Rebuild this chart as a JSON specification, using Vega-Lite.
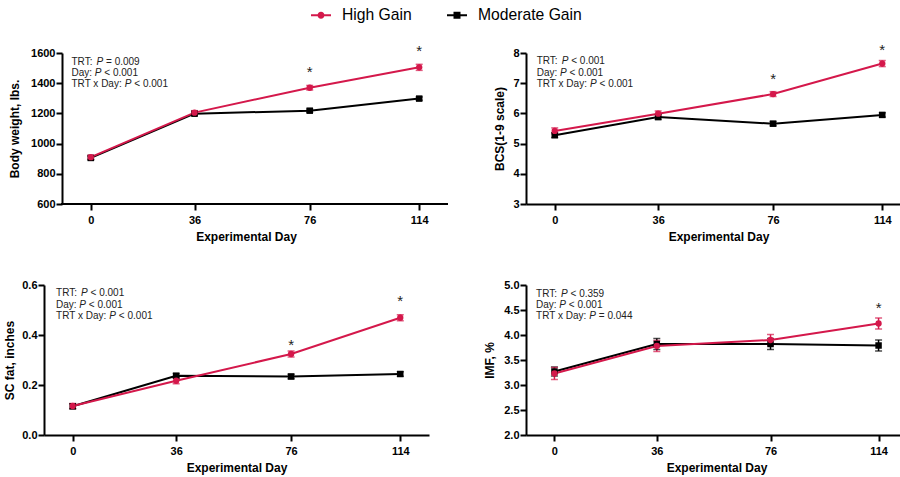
{
  "$schema": "https://vega.github.io/schema/vega-lite/v6.json",
  "padding": {"left": 3, "top": 5, "right": 0, "bottom": 5},
  "background": "white",
  "datasets": {
    "pts": [
      {"panel": "bw", "group": "Moderate Gain", "day": 0, "mean": 905, "lo": 893, "hi": 917},
      {"panel": "bw", "group": "Moderate Gain", "day": 36, "mean": 1198, "lo": 1186, "hi": 1210},
      {"panel": "bw", "group": "Moderate Gain", "day": 76, "mean": 1218, "lo": 1207, "hi": 1229},
      {"panel": "bw", "group": "Moderate Gain", "day": 114, "mean": 1298, "lo": 1287, "hi": 1309},
      {"panel": "bcs", "group": "Moderate Gain", "day": 0, "mean": 5.28, "lo": 5.2, "hi": 5.36},
      {"panel": "bcs", "group": "Moderate Gain", "day": 36, "mean": 5.88, "lo": 5.8, "hi": 5.96},
      {"panel": "bcs", "group": "Moderate Gain", "day": 76, "mean": 5.66, "lo": 5.59, "hi": 5.73},
      {"panel": "bcs", "group": "Moderate Gain", "day": 114, "mean": 5.95, "lo": 5.88, "hi": 6.02},
      {"panel": "sc", "group": "Moderate Gain", "day": 0, "mean": 0.115, "lo": 0.105, "hi": 0.125},
      {"panel": "sc", "group": "Moderate Gain", "day": 36, "mean": 0.237, "lo": 0.228, "hi": 0.246},
      {"panel": "sc", "group": "Moderate Gain", "day": 76, "mean": 0.234, "lo": 0.225, "hi": 0.243},
      {"panel": "sc", "group": "Moderate Gain", "day": 114, "mean": 0.244, "lo": 0.235, "hi": 0.253},
      {"panel": "imf", "group": "Moderate Gain", "day": 0, "mean": 3.27, "lo": 3.18, "hi": 3.36},
      {"panel": "imf", "group": "Moderate Gain", "day": 36, "mean": 3.82, "lo": 3.71, "hi": 3.93},
      {"panel": "imf", "group": "Moderate Gain", "day": 76, "mean": 3.82, "lo": 3.71, "hi": 3.93},
      {"panel": "imf", "group": "Moderate Gain", "day": 114, "mean": 3.79, "lo": 3.68, "hi": 3.9},
      {"panel": "bw", "group": "High Gain", "day": 0, "mean": 910, "lo": 897, "hi": 923},
      {"panel": "bw", "group": "High Gain", "day": 36, "mean": 1205, "lo": 1192, "hi": 1218},
      {"panel": "bw", "group": "High Gain", "day": 76, "mean": 1370, "lo": 1355, "hi": 1385},
      {"panel": "bw", "group": "High Gain", "day": 114, "mean": 1505, "lo": 1485, "hi": 1525},
      {"panel": "bcs", "group": "High Gain", "day": 0, "mean": 5.42, "lo": 5.32, "hi": 5.52},
      {"panel": "bcs", "group": "High Gain", "day": 36, "mean": 5.99, "lo": 5.9, "hi": 6.08},
      {"panel": "bcs", "group": "High Gain", "day": 76, "mean": 6.64, "lo": 6.56, "hi": 6.72},
      {"panel": "bcs", "group": "High Gain", "day": 114, "mean": 7.65, "lo": 7.55, "hi": 7.75},
      {"panel": "sc", "group": "High Gain", "day": 0, "mean": 0.116, "lo": 0.106, "hi": 0.126},
      {"panel": "sc", "group": "High Gain", "day": 36, "mean": 0.217, "lo": 0.205, "hi": 0.229},
      {"panel": "sc", "group": "High Gain", "day": 76, "mean": 0.324, "lo": 0.312, "hi": 0.336},
      {"panel": "sc", "group": "High Gain", "day": 114, "mean": 0.469, "lo": 0.457, "hi": 0.481},
      {"panel": "imf", "group": "High Gain", "day": 0, "mean": 3.23, "lo": 3.11, "hi": 3.35},
      {"panel": "imf", "group": "High Gain", "day": 36, "mean": 3.78, "lo": 3.67, "hi": 3.89},
      {"panel": "imf", "group": "High Gain", "day": 76, "mean": 3.9, "lo": 3.79, "hi": 4.01},
      {"panel": "imf", "group": "High Gain", "day": 114, "mean": 4.23, "lo": 4.12, "hi": 4.34}
    ],
    "stars": [
      {"panel": "bw", "day": 76, "y": 1472},
      {"panel": "bw", "day": 114, "y": 1615},
      {"panel": "bcs", "day": 76, "y": 7.15},
      {"panel": "bcs", "day": 114, "y": 8.09},
      {"panel": "sc", "day": 76, "y": 0.361},
      {"panel": "sc", "day": 114, "y": 0.535},
      {"panel": "imf", "day": 114, "y": 4.54}
    ]
  },
  "concat": [
    {
      "width": 404, "height": 151,
      "layer": [
        {
          "data": {"name": "pts"},
          "transform": [{"filter": "datum.panel === 'bw'"}],
          "encoding": {
            "x": {"field": "day", "type": "quantitative", "scale": {"domain": [-16.25, 124], "nice": false, "zero": false}, "title": "Experimental Day", "axis": {"values": [0, 36, 76, 114], "labelPadding": 4, "titlePadding": 6, "labelFlush": false, "labelOverlap": false, "domain": false}},
            "color": {"field": "group", "type": "nominal", "scale": {"domain": ["High Gain", "Moderate Gain"], "range": ["#d4184b", "#000000"]},
              "legend": {"orient": "none", "legendX": 267, "legendY": -48, "direction": "horizontal", "title": null, "labelFontSize": 15.7, "labelFont": "Liberation Sans", "labelFontWeight": "normal", "labelColor": "#000", "symbolSize": 400, "labelOffset": 11, "columnPadding": 35, "symbolStrokeWidth": 0,
                "encode": {"symbols": {"update": {
                  "shape": {"signal": "datum.value === 'High Gain' ? 'M-1,-0.1H1V0.1H-1Z M0.35,0 A0.35,0.35 0 1 1 -0.35,0 A0.35,0.35 0 1 1 0.35,0Z' : 'M-1,-0.1H1V0.1H-1Z M-0.35,-0.35H0.35V0.35H-0.35Z'"},
                  "fill": {"signal": "datum.value === 'High Gain' ? '#d4184b' : '#000000'"},
                  "opacity": {"value": 1}, "strokeWidth": {"value": 0}}}}}}
          },
          "layer": [
            {"mark": {"type": "rule", "strokeWidth": 1.5}, "encoding": {"y": {"field": "lo", "type": "quantitative", "scale": {"domain": [600, 1600], "nice": false, "zero": false}, "title": "Body weight, lbs.", "axis": {"values": [600, 800, 1000, 1200, 1400, 1600], "format": "d", "labelOverlap": false, "labelPadding": 1, "titlePadding": 9.5, "offset": -18}}, "y2": {"field": "hi"}}},
            {"mark": {"type": "tick", "orient": "horizontal", "size": 7, "thickness": 1.5}, "encoding": {"y": {"field": "lo", "type": "quantitative", "scale": {"domain": [600, 1600], "nice": false, "zero": false}, "title": "Body weight, lbs.", "axis": {"values": [600, 800, 1000, 1200, 1400, 1600], "format": "d", "labelOverlap": false, "labelPadding": 1, "titlePadding": 9.5, "offset": -18}}}},
            {"mark": {"type": "tick", "orient": "horizontal", "size": 7, "thickness": 1.5}, "encoding": {"y": {"field": "hi", "type": "quantitative", "scale": {"domain": [600, 1600], "nice": false, "zero": false}, "title": "Body weight, lbs.", "axis": {"values": [600, 800, 1000, 1200, 1400, 1600], "format": "d", "labelOverlap": false, "labelPadding": 1, "titlePadding": 9.5, "offset": -18}}}},
            {"mark": {"type": "line", "strokeWidth": 2}, "encoding": {"y": {"field": "mean", "type": "quantitative", "scale": {"domain": [600, 1600], "nice": false, "zero": false}, "title": "Body weight, lbs.", "axis": {"values": [600, 800, 1000, 1200, 1400, 1600], "format": "d", "labelOverlap": false, "labelPadding": 1, "titlePadding": 9.5, "offset": -18}}}},
            {"transform": [{"filter": "datum.group === 'Moderate Gain'"}], "mark": {"type": "point", "shape": "square", "filled": true, "size": 42, "opacity": 1}, "encoding": {"y": {"field": "mean", "type": "quantitative", "scale": {"domain": [600, 1600], "nice": false, "zero": false}, "title": "Body weight, lbs.", "axis": {"values": [600, 800, 1000, 1200, 1400, 1600], "format": "d", "labelOverlap": false, "labelPadding": 1, "titlePadding": 9.5, "offset": -18}}}},
            {"transform": [{"filter": "datum.group === 'High Gain'"}], "mark": {"type": "point", "shape": "circle", "filled": true, "size": 40, "opacity": 1}, "encoding": {"y": {"field": "mean", "type": "quantitative", "scale": {"domain": [600, 1600], "nice": false, "zero": false}, "title": "Body weight, lbs.", "axis": {"values": [600, 800, 1000, 1200, 1400, 1600], "format": "d", "labelOverlap": false, "labelPadding": 1, "titlePadding": 9.5, "offset": -18}}}}
          ]
        },
        {
          "data": {"values": [{}]},
          "mark": {"type": "rule", "color": "#000", "strokeWidth": 2},
          "encoding": {
            "x": {"datum": -10.35, "type": "quantitative", "scale": {"domain": [-16.25, 124], "nice": false, "zero": false}, "title": "Experimental Day", "axis": {"values": [0, 36, 76, 114], "labelPadding": 4, "titlePadding": 6, "labelFlush": false, "labelOverlap": false, "domain": false}},
            "x2": {"datum": 124},
            "y": {"datum": 600, "type": "quantitative", "scale": {"domain": [600, 1600], "nice": false, "zero": false}, "title": "Body weight, lbs.", "axis": {"values": [600, 800, 1000, 1200, 1400, 1600], "format": "d", "labelOverlap": false, "labelPadding": 1, "titlePadding": 9.5, "offset": -18}}
          }
        },
        {
          "data": {"name": "stars"},
          "transform": [{"filter": "datum.panel === 'bw'"}],
          "mark": {"type": "text", "text": "*", "fontSize": 15, "align": "center", "baseline": "middle", "color": "#222"},
          "encoding": {
            "x": {"field": "day", "type": "quantitative", "scale": {"domain": [-16.25, 124], "nice": false, "zero": false}, "title": "Experimental Day", "axis": {"values": [0, 36, 76, 114], "labelPadding": 4, "titlePadding": 6, "labelFlush": false, "labelOverlap": false, "domain": false}},
            "y": {"field": "y", "type": "quantitative", "scale": {"domain": [600, 1600], "nice": false, "zero": false}, "title": "Body weight, lbs.", "axis": {"values": [600, 800, 1000, 1200, 1400, 1600], "format": "d", "labelOverlap": false, "labelPadding": 1, "titlePadding": 9.5, "offset": -18}}
          }
        },
        {
          "data": {"values": [{}]},
          "encoding": {
            "x": {"datum": -6.7, "type": "quantitative", "scale": {"domain": [-16.25, 124], "nice": false, "zero": false}, "title": "Experimental Day", "axis": {"values": [0, 36, 76, 114], "labelPadding": 4, "titlePadding": 6, "labelFlush": false, "labelOverlap": false, "domain": false}},
            "y": {"datum": 1542, "type": "quantitative", "scale": {"domain": [600, 1600], "nice": false, "zero": false}, "title": "Body weight, lbs.", "axis": {"values": [600, 800, 1000, 1200, 1400, 1600], "format": "d", "labelOverlap": false, "labelPadding": 1, "titlePadding": 9.5, "offset": -18}}
          },
          "layer": [
            {"mark": {"type": "text", "text": "TRT:", "dx": 0, "dy": 0}},
            {"mark": {"type": "text", "text": "P", "fontStyle": "italic", "dx": 25, "dy": 0}},
            {"mark": {"type": "text", "text": "= 0.009", "dx": 34.5, "dy": 0}},
            {"mark": {"type": "text", "text": "Day:", "dx": 0, "dy": 11.3}},
            {"mark": {"type": "text", "text": "P", "fontStyle": "italic", "dx": 23.3, "dy": 11.3}},
            {"mark": {"type": "text", "text": "< 0.001", "dx": 32.8, "dy": 11.3}},
            {"mark": {"type": "text", "text": "TRT x Day:", "dx": 0, "dy": 22.6}},
            {"mark": {"type": "text", "text": "P", "fontStyle": "italic", "dx": 53.3, "dy": 22.6}},
            {"mark": {"type": "text", "text": "< 0.001", "dx": 62.8, "dy": 22.6}}
          ]
        }
      ]
    },
    {
      "width": 385, "height": 151,
      "layer": [
        {
          "data": {"name": "pts"},
          "transform": [{"filter": "datum.panel === 'bcs'"}],
          "encoding": {
            "x": {"field": "day", "type": "quantitative", "scale": {"domain": [-10, 124], "nice": false, "zero": false}, "title": "Experimental Day", "axis": {"values": [0, 36, 76, 114], "labelPadding": 4, "titlePadding": 6, "labelFlush": false, "labelOverlap": false}},
            "color": {"field": "group", "type": "nominal", "scale": {"domain": ["High Gain", "Moderate Gain"], "range": ["#d4184b", "#000000"]}, "legend": null}
          },
          "layer": [
            {"mark": {"type": "rule", "strokeWidth": 1.5}, "encoding": {"y": {"field": "lo", "type": "quantitative", "scale": {"domain": [3, 8], "nice": false, "zero": false}, "title": "BCS(1-9 scale)", "axis": {"values": [3, 4, 5, 6, 7, 8], "format": "d", "labelOverlap": false, "labelPadding": 1, "titlePadding": 6}}, "y2": {"field": "hi"}}},
            {"mark": {"type": "tick", "orient": "horizontal", "size": 7, "thickness": 1.5}, "encoding": {"y": {"field": "lo", "type": "quantitative", "scale": {"domain": [3, 8], "nice": false, "zero": false}, "title": "BCS(1-9 scale)", "axis": {"values": [3, 4, 5, 6, 7, 8], "format": "d", "labelOverlap": false, "labelPadding": 1, "titlePadding": 6}}}},
            {"mark": {"type": "tick", "orient": "horizontal", "size": 7, "thickness": 1.5}, "encoding": {"y": {"field": "hi", "type": "quantitative", "scale": {"domain": [3, 8], "nice": false, "zero": false}, "title": "BCS(1-9 scale)", "axis": {"values": [3, 4, 5, 6, 7, 8], "format": "d", "labelOverlap": false, "labelPadding": 1, "titlePadding": 6}}}},
            {"mark": {"type": "line", "strokeWidth": 2}, "encoding": {"y": {"field": "mean", "type": "quantitative", "scale": {"domain": [3, 8], "nice": false, "zero": false}, "title": "BCS(1-9 scale)", "axis": {"values": [3, 4, 5, 6, 7, 8], "format": "d", "labelOverlap": false, "labelPadding": 1, "titlePadding": 6}}}},
            {"transform": [{"filter": "datum.group === 'Moderate Gain'"}], "mark": {"type": "point", "shape": "square", "filled": true, "size": 42, "opacity": 1}, "encoding": {"y": {"field": "mean", "type": "quantitative", "scale": {"domain": [3, 8], "nice": false, "zero": false}, "title": "BCS(1-9 scale)", "axis": {"values": [3, 4, 5, 6, 7, 8], "format": "d", "labelOverlap": false, "labelPadding": 1, "titlePadding": 6}}}},
            {"transform": [{"filter": "datum.group === 'High Gain'"}], "mark": {"type": "point", "shape": "circle", "filled": true, "size": 40, "opacity": 1}, "encoding": {"y": {"field": "mean", "type": "quantitative", "scale": {"domain": [3, 8], "nice": false, "zero": false}, "title": "BCS(1-9 scale)", "axis": {"values": [3, 4, 5, 6, 7, 8], "format": "d", "labelOverlap": false, "labelPadding": 1, "titlePadding": 6}}}}
          ]
        },
        {
          "data": {"name": "stars"},
          "transform": [{"filter": "datum.panel === 'bcs'"}],
          "mark": {"type": "text", "text": "*", "fontSize": 15, "align": "center", "baseline": "middle", "color": "#222"},
          "encoding": {
            "x": {"field": "day", "type": "quantitative", "scale": {"domain": [-10, 124], "nice": false, "zero": false}, "title": "Experimental Day", "axis": {"values": [0, 36, 76, 114], "labelPadding": 4, "titlePadding": 6, "labelFlush": false, "labelOverlap": false}},
            "y": {"field": "y", "type": "quantitative", "scale": {"domain": [3, 8], "nice": false, "zero": false}, "title": "BCS(1-9 scale)", "axis": {"values": [3, 4, 5, 6, 7, 8], "format": "d", "labelOverlap": false, "labelPadding": 1, "titlePadding": 6}}
          }
        },
        {
          "data": {"values": [{}]},
          "encoding": {
            "x": {"datum": -6.27, "type": "quantitative", "scale": {"domain": [-10, 124], "nice": false, "zero": false}, "title": "Experimental Day", "axis": {"values": [0, 36, 76, 114], "labelPadding": 4, "titlePadding": 6, "labelFlush": false, "labelOverlap": false}},
            "y": {"datum": 7.72, "type": "quantitative", "scale": {"domain": [3, 8], "nice": false, "zero": false}, "title": "BCS(1-9 scale)", "axis": {"values": [3, 4, 5, 6, 7, 8], "format": "d", "labelOverlap": false, "labelPadding": 1, "titlePadding": 6}}
          },
          "layer": [
            {"mark": {"type": "text", "text": "TRT:", "dx": 0, "dy": 0}},
            {"mark": {"type": "text", "text": "P", "fontStyle": "italic", "dx": 25, "dy": 0}},
            {"mark": {"type": "text", "text": "< 0.001", "dx": 34.5, "dy": 0}},
            {"mark": {"type": "text", "text": "Day:", "dx": 0, "dy": 11.3}},
            {"mark": {"type": "text", "text": "P", "fontStyle": "italic", "dx": 23.3, "dy": 11.3}},
            {"mark": {"type": "text", "text": "< 0.001", "dx": 32.8, "dy": 11.3}},
            {"mark": {"type": "text", "text": "TRT x Day:", "dx": 0, "dy": 22.6}},
            {"mark": {"type": "text", "text": "P", "fontStyle": "italic", "dx": 53.3, "dy": 22.6}},
            {"mark": {"type": "text", "text": "< 0.001", "dx": 62.8, "dy": 22.6}}
          ]
        }
      ]
    },
    {
      "width": 385, "height": 150,
      "layer": [
        {
          "data": {"name": "pts"},
          "transform": [{"filter": "datum.panel === 'sc'"}],
          "encoding": {
            "x": {"field": "day", "type": "quantitative", "scale": {"domain": [-10, 124], "nice": false, "zero": false}, "title": "Experimental Day", "axis": {"values": [0, 36, 76, 114], "labelPadding": 4, "titlePadding": 6, "labelFlush": false, "labelOverlap": false}},
            "color": {"field": "group", "type": "nominal", "scale": {"domain": ["High Gain", "Moderate Gain"], "range": ["#d4184b", "#000000"]}, "legend": null}
          },
          "layer": [
            {"mark": {"type": "rule", "strokeWidth": 1.5}, "encoding": {"y": {"field": "lo", "type": "quantitative", "scale": {"domain": [0, 0.6], "nice": false, "zero": false}, "title": "SC fat, inches", "axis": {"values": [0, 0.2, 0.4, 0.6], "format": ".1f", "labelOverlap": false, "labelPadding": 1, "titlePadding": 5.7}}, "y2": {"field": "hi"}}},
            {"mark": {"type": "tick", "orient": "horizontal", "size": 7, "thickness": 1.5}, "encoding": {"y": {"field": "lo", "type": "quantitative", "scale": {"domain": [0, 0.6], "nice": false, "zero": false}, "title": "SC fat, inches", "axis": {"values": [0, 0.2, 0.4, 0.6], "format": ".1f", "labelOverlap": false, "labelPadding": 1, "titlePadding": 5.7}}}},
            {"mark": {"type": "tick", "orient": "horizontal", "size": 7, "thickness": 1.5}, "encoding": {"y": {"field": "hi", "type": "quantitative", "scale": {"domain": [0, 0.6], "nice": false, "zero": false}, "title": "SC fat, inches", "axis": {"values": [0, 0.2, 0.4, 0.6], "format": ".1f", "labelOverlap": false, "labelPadding": 1, "titlePadding": 5.7}}}},
            {"mark": {"type": "line", "strokeWidth": 2}, "encoding": {"y": {"field": "mean", "type": "quantitative", "scale": {"domain": [0, 0.6], "nice": false, "zero": false}, "title": "SC fat, inches", "axis": {"values": [0, 0.2, 0.4, 0.6], "format": ".1f", "labelOverlap": false, "labelPadding": 1, "titlePadding": 5.7}}}},
            {"transform": [{"filter": "datum.group === 'Moderate Gain'"}], "mark": {"type": "point", "shape": "square", "filled": true, "size": 42, "opacity": 1}, "encoding": {"y": {"field": "mean", "type": "quantitative", "scale": {"domain": [0, 0.6], "nice": false, "zero": false}, "title": "SC fat, inches", "axis": {"values": [0, 0.2, 0.4, 0.6], "format": ".1f", "labelOverlap": false, "labelPadding": 1, "titlePadding": 5.7}}}},
            {"transform": [{"filter": "datum.group === 'High Gain'"}], "mark": {"type": "point", "shape": "circle", "filled": true, "size": 40, "opacity": 1}, "encoding": {"y": {"field": "mean", "type": "quantitative", "scale": {"domain": [0, 0.6], "nice": false, "zero": false}, "title": "SC fat, inches", "axis": {"values": [0, 0.2, 0.4, 0.6], "format": ".1f", "labelOverlap": false, "labelPadding": 1, "titlePadding": 5.7}}}}
          ]
        },
        {
          "data": {"name": "stars"},
          "transform": [{"filter": "datum.panel === 'sc'"}],
          "mark": {"type": "text", "text": "*", "fontSize": 15, "align": "center", "baseline": "middle", "color": "#222"},
          "encoding": {
            "x": {"field": "day", "type": "quantitative", "scale": {"domain": [-10, 124], "nice": false, "zero": false}, "title": "Experimental Day", "axis": {"values": [0, 36, 76, 114], "labelPadding": 4, "titlePadding": 6, "labelFlush": false, "labelOverlap": false}},
            "y": {"field": "y", "type": "quantitative", "scale": {"domain": [0, 0.6], "nice": false, "zero": false}, "title": "SC fat, inches", "axis": {"values": [0, 0.2, 0.4, 0.6], "format": ".1f", "labelOverlap": false, "labelPadding": 1, "titlePadding": 5.7}}
          }
        },
        {
          "data": {"values": [{}]},
          "encoding": {
            "x": {"datum": -5.8, "type": "quantitative", "scale": {"domain": [-10, 124], "nice": false, "zero": false}, "title": "Experimental Day", "axis": {"values": [0, 36, 76, 114], "labelPadding": 4, "titlePadding": 6, "labelFlush": false, "labelOverlap": false}},
            "y": {"datum": 0.567, "type": "quantitative", "scale": {"domain": [0, 0.6], "nice": false, "zero": false}, "title": "SC fat, inches", "axis": {"values": [0, 0.2, 0.4, 0.6], "format": ".1f", "labelOverlap": false, "labelPadding": 1, "titlePadding": 5.7}}
          },
          "layer": [
            {"mark": {"type": "text", "text": "TRT:", "dx": 0, "dy": 0}},
            {"mark": {"type": "text", "text": "P", "fontStyle": "italic", "dx": 25, "dy": 0}},
            {"mark": {"type": "text", "text": "< 0.001", "dx": 34.5, "dy": 0}},
            {"mark": {"type": "text", "text": "Day:", "dx": 0, "dy": 11.3}},
            {"mark": {"type": "text", "text": "P", "fontStyle": "italic", "dx": 23.3, "dy": 11.3}},
            {"mark": {"type": "text", "text": "< 0.001", "dx": 32.8, "dy": 11.3}},
            {"mark": {"type": "text", "text": "TRT x Day:", "dx": 0, "dy": 22.6}},
            {"mark": {"type": "text", "text": "P", "fontStyle": "italic", "dx": 53.3, "dy": 22.6}},
            {"mark": {"type": "text", "text": "< 0.001", "dx": 62.8, "dy": 22.6}}
          ]
        }
      ]
    },
    {
      "width": 381, "height": 150,
      "layer": [
        {
          "data": {"name": "pts"},
          "transform": [{"filter": "datum.panel === 'imf'"}],
          "encoding": {
            "x": {"field": "day", "type": "quantitative", "scale": {"domain": [-10, 124], "nice": false, "zero": false}, "title": "Experimental Day", "axis": {"values": [0, 36, 76, 114], "labelPadding": 4, "titlePadding": 6, "labelFlush": false, "labelOverlap": false}},
            "color": {"field": "group", "type": "nominal", "scale": {"domain": ["High Gain", "Moderate Gain"], "range": ["#d4184b", "#000000"]}, "legend": null}
          },
          "layer": [
            {"mark": {"type": "rule", "strokeWidth": 1.5}, "encoding": {"y": {"field": "lo", "type": "quantitative", "scale": {"domain": [2, 5], "nice": false, "zero": false}, "title": "IMF, %", "axis": {"values": [2, 2.5, 3, 3.5, 4, 4.5, 5], "format": ".1f", "labelOverlap": false, "labelPadding": 1, "titlePadding": 7}}, "y2": {"field": "hi"}}},
            {"mark": {"type": "tick", "orient": "horizontal", "size": 7, "thickness": 1.5}, "encoding": {"y": {"field": "lo", "type": "quantitative", "scale": {"domain": [2, 5], "nice": false, "zero": false}, "title": "IMF, %", "axis": {"values": [2, 2.5, 3, 3.5, 4, 4.5, 5], "format": ".1f", "labelOverlap": false, "labelPadding": 1, "titlePadding": 7}}}},
            {"mark": {"type": "tick", "orient": "horizontal", "size": 7, "thickness": 1.5}, "encoding": {"y": {"field": "hi", "type": "quantitative", "scale": {"domain": [2, 5], "nice": false, "zero": false}, "title": "IMF, %", "axis": {"values": [2, 2.5, 3, 3.5, 4, 4.5, 5], "format": ".1f", "labelOverlap": false, "labelPadding": 1, "titlePadding": 7}}}},
            {"mark": {"type": "line", "strokeWidth": 2}, "encoding": {"y": {"field": "mean", "type": "quantitative", "scale": {"domain": [2, 5], "nice": false, "zero": false}, "title": "IMF, %", "axis": {"values": [2, 2.5, 3, 3.5, 4, 4.5, 5], "format": ".1f", "labelOverlap": false, "labelPadding": 1, "titlePadding": 7}}}},
            {"transform": [{"filter": "datum.group === 'Moderate Gain'"}], "mark": {"type": "point", "shape": "square", "filled": true, "size": 42, "opacity": 1}, "encoding": {"y": {"field": "mean", "type": "quantitative", "scale": {"domain": [2, 5], "nice": false, "zero": false}, "title": "IMF, %", "axis": {"values": [2, 2.5, 3, 3.5, 4, 4.5, 5], "format": ".1f", "labelOverlap": false, "labelPadding": 1, "titlePadding": 7}}}},
            {"transform": [{"filter": "datum.group === 'High Gain'"}], "mark": {"type": "point", "shape": "circle", "filled": true, "size": 40, "opacity": 1}, "encoding": {"y": {"field": "mean", "type": "quantitative", "scale": {"domain": [2, 5], "nice": false, "zero": false}, "title": "IMF, %", "axis": {"values": [2, 2.5, 3, 3.5, 4, 4.5, 5], "format": ".1f", "labelOverlap": false, "labelPadding": 1, "titlePadding": 7}}}}
          ]
        },
        {
          "data": {"name": "stars"},
          "transform": [{"filter": "datum.panel === 'imf'"}],
          "mark": {"type": "text", "text": "*", "fontSize": 15, "align": "center", "baseline": "middle", "color": "#222"},
          "encoding": {
            "x": {"field": "day", "type": "quantitative", "scale": {"domain": [-10, 124], "nice": false, "zero": false}, "title": "Experimental Day", "axis": {"values": [0, 36, 76, 114], "labelPadding": 4, "titlePadding": 6, "labelFlush": false, "labelOverlap": false}},
            "y": {"field": "y", "type": "quantitative", "scale": {"domain": [2, 5], "nice": false, "zero": false}, "title": "IMF, %", "axis": {"values": [2, 2.5, 3, 3.5, 4, 4.5, 5], "format": ".1f", "labelOverlap": false, "labelPadding": 1, "titlePadding": 7}}
          }
        },
        {
          "data": {"values": [{}]},
          "encoding": {
            "x": {"datum": -6.47, "type": "quantitative", "scale": {"domain": [-10, 124], "nice": false, "zero": false}, "title": "Experimental Day", "axis": {"values": [0, 36, 76, 114], "labelPadding": 4, "titlePadding": 6, "labelFlush": false, "labelOverlap": false}},
            "y": {"datum": 4.83, "type": "quantitative", "scale": {"domain": [2, 5], "nice": false, "zero": false}, "title": "IMF, %", "axis": {"values": [2, 2.5, 3, 3.5, 4, 4.5, 5], "format": ".1f", "labelOverlap": false, "labelPadding": 1, "titlePadding": 7}}
          },
          "layer": [
            {"mark": {"type": "text", "text": "TRT:", "dx": 0, "dy": 0}},
            {"mark": {"type": "text", "text": "P", "fontStyle": "italic", "dx": 25, "dy": 0}},
            {"mark": {"type": "text", "text": "< 0.359", "dx": 34.5, "dy": 0}},
            {"mark": {"type": "text", "text": "Day:", "dx": 0, "dy": 11.3}},
            {"mark": {"type": "text", "text": "P", "fontStyle": "italic", "dx": 23.3, "dy": 11.3}},
            {"mark": {"type": "text", "text": "< 0.001", "dx": 32.8, "dy": 11.3}},
            {"mark": {"type": "text", "text": "TRT x Day:", "dx": 0, "dy": 22.6}},
            {"mark": {"type": "text", "text": "P", "fontStyle": "italic", "dx": 53.3, "dy": 22.6}},
            {"mark": {"type": "text", "text": "= 0.044", "dx": 62.8, "dy": 22.6}}
          ]
        }
      ]
    }
  ],
  "columns": 2,
  "spacing": {"row": 37, "column": 34},
  "config": {
    "font": "Liberation Sans",
    "view": {"stroke": null},
    "axis": {"domainColor": "#000", "domainWidth": 2, "tickColor": "#000", "tickWidth": 2, "tickSize": 6, "grid": false, "labelFont": "Liberation Sans", "labelFontWeight": "bold", "labelFontSize": 11, "labelColor": "#000", "titleFont": "Liberation Sans", "titleFontWeight": "bold", "titleFontSize": 12, "titleColor": "#000"},
    "text": {"font": "Liberation Sans", "fontSize": 10, "align": "left", "baseline": "middle", "color": "#222"}
  }
}
